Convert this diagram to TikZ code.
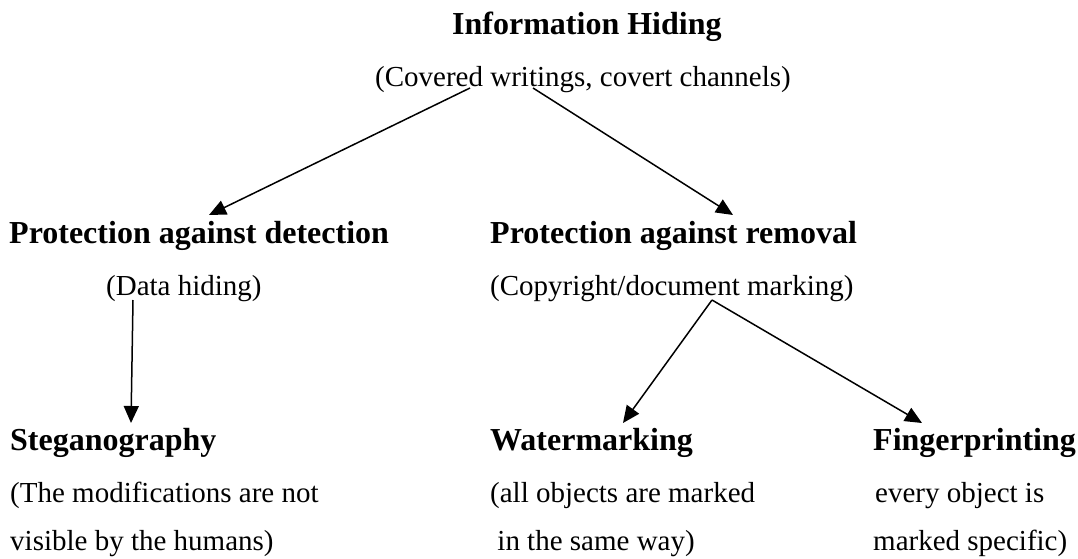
\documentclass[tikz,border=0pt]{standalone}
\usepackage{fontspec}
\setmainfont{Liberation Serif}
\usetikzlibrary{arrows.meta}

\tikzset{
  head/.style={inner sep=0pt, anchor=base west, font=\fontsize{32}{32}\selectfont\bfseries},
  note/.style={inner sep=0pt, anchor=base west, font=\fontsize{29}{29}\selectfont},
  link/.style={line width=1.5pt, -{Triangle[length=17pt, width=15pt]}},
}

\begin{document}
\begin{tikzpicture}[x=1pt, y=-1pt]
  \useasboundingbox (0,0) rectangle (1078,559);

  % root
  \node[head] (root)    at (452,35)  {Information Hiding};
  \node[note] (rootsub) at (375,87)  {(Covered writings, covert channels)};

  % second level
  \node[head] (det)     at (9,243)   {Protection against detection};
  \node[note] (detsub)  at (106,295) {(Data hiding)};
  \node[head] (rem)     at (490,243) {Protection against removal};
  \node[note] (remsub)  at (490,295) {(Copyright/document marking)};

  % leaves
  \node[head] (steg)    at (10,450)  {Steganography};
  \node[note] (stega)   at (10,502)  {(The modifications are not};
  \node[note] (stegb)   at (10,550)  {visible by the humans)};

  \node[head] (wat)     at (490,450) {Watermarking};
  \node[note] (wata)    at (490,502) {(all objects are marked};
  \node[note] (watb)    at (490,550) {\ in the same way)};

  \node[head] (fing)    at (873,450) {Fingerprinting};
  \node[note] (finga)   at (875,502) {every object is};
  \node[note] (fingb)   at (873,550) {marked specific)};

  % connector end points
  \coordinate (rootL) at (470,88);
  \coordinate (rootR) at (533,88);
  \coordinate (detIn) at (209,215);
  \coordinate (remIn) at (733,215);
  \coordinate (detOut) at (133,300);
  \coordinate (stegIn) at (131,423);
  \coordinate (remOut) at (712,300);
  \coordinate (watIn) at (623,423);
  \coordinate (fingIn) at (922,423);

  \draw[link] (rootL) -- (detIn);
  \draw[link] (rootR) -- (remIn);
  \draw[link] (detOut) -- (stegIn);
  \draw[link] (remOut) -- (watIn);
  \draw[link] (remOut) -- (fingIn);
\end{tikzpicture}
\end{document}
